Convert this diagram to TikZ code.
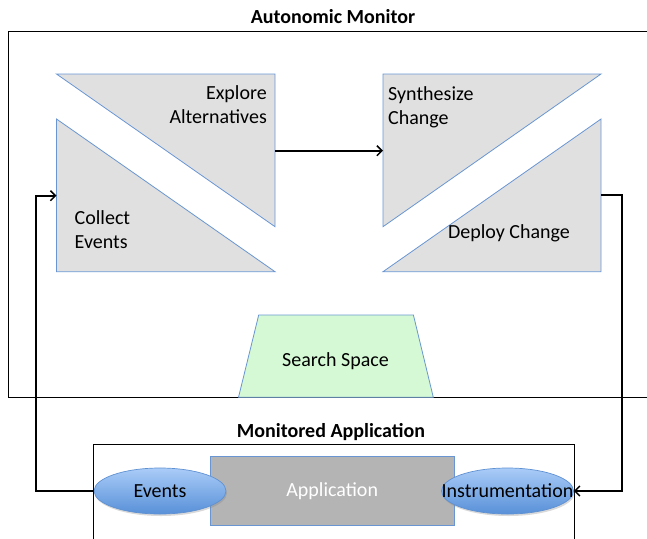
\documentclass[tikz,border=0pt]{standalone}
\usepackage{fontspec}
\setmainfont{Carlito}
\usetikzlibrary{shapes.geometric,arrows.meta,shadows}
\definecolor{triFill}{RGB}{224,224,224}
\definecolor{triLine}{RGB}{105,150,210}
\definecolor{spaceFill}{RGB}{213,249,213}
\definecolor{appFill}{RGB}{180,180,180}
\definecolor{ellTop}{RGB}{170,204,248}
\definecolor{ellBot}{RGB}{88,144,216}
\definecolor{ellLine}{RGB}{95,145,210}
\begin{document}
\begin{tikzpicture}[x=1pt,y=-1pt,
  font=\fontsize{20}{24}\selectfont,
  boxline/.style={draw=black,line width=0.9pt},
  tri/.style={fill=triFill,draw=triLine,line width=0.8pt},
  lbl/.style={inner sep=0pt,font=\fontsize{20}{24}\selectfont},
  ttl/.style={inner sep=0pt,font=\fontsize{20}{24}\selectfont\bfseries},
  ell/.style={ellipse,draw=ellLine,line width=0.7pt,top color=ellTop,bottom color=ellBot,
    minimum width=132pt,minimum height=46pt,inner sep=0pt,
    drop shadow={shadow xshift=1pt,shadow yshift=-2pt,opacity=0.3}},
  conn/.style={draw=black,line width=1.7pt},
  tip/.style={-{Straight Barb[length=5pt,width=10pt,line width=1.5pt]}}
]
\useasboundingbox (0,0) rectangle (647,538);

% titles
\node[ttl] (amtitle) at (333,17) {Autonomic Monitor};
\node[ttl] (matitle) at (331,432) {Monitored Application};

% containers
\draw[boxline] (680,31) -- (8.3,31) -- (8.3,397.3) -- (680,397.3);
\draw[boxline] (93.7,560) -- (93.7,444.3) -- (574,444.3) -- (574,560);

% triangles
\draw[tri] (56.5,74) -- (275,74) -- (275,226.7) -- cycle;
\draw[tri] (383,74) -- (601,74) -- (383,226.7) -- cycle;
\draw[tri] (56.5,119) -- (56.5,271.7) -- (275,271.7) -- cycle;
\draw[tri] (601,119) -- (601,271.7) -- (383,271.7) -- cycle;
\coordinate (explore-e) at (275,150.7);
\coordinate (synth-w) at (383,150.7);
\coordinate (collect-w) at (56.5,195.7);
\coordinate (deploy-e) at (601,195);

\node[lbl,align=right,anchor=east] (explore) at (267,105) {Explore\\Alternatives};
\node[lbl,align=left,anchor=west] (synth) at (388,107) {Synthesize\\Change};
\node[lbl,align=left,anchor=west] (collect) at (74.5,230) {Collect\\Events};
\node[lbl] (deploy) at (509,233) {Deploy Change};

% search space
\draw[fill=spaceFill,draw=triLine,line width=0.8pt]
  (258.7,315) -- (413.4,315) -- (433.3,397.3) -- (238.5,397.3) -- cycle;
\node[lbl] (space) at (335.5,361.5) {Search Space};

% application
\node[rectangle,fill=appFill,draw=triLine,line width=0.8pt,minimum width=243.5pt,
  minimum height=68.6pt,inner sep=0pt,text=white] (app) at (332.2,491) {Application};
\node[ell] (events) at (160,491) {\makebox[0pt]{Events}};
\node[ell] (instr) at (507.5,491) {\makebox[0pt]{Instrumentation}};

% connectors
\coordinate (lc1) at (36.3,491);
\coordinate (lc2) at (36.3,195.7);
\coordinate (rc1) at (621.8,195);
\coordinate (rc2) at (621.8,491);
\draw[conn,tip] (explore-e) -- (synth-w);
\draw[conn,tip] (events.west) -- (lc1) -- (lc2) -- (collect-w);
\draw[conn,tip] (deploy-e) -- (rc1) -- (rc2) -- (instr.east);
\end{tikzpicture}
\end{document}
